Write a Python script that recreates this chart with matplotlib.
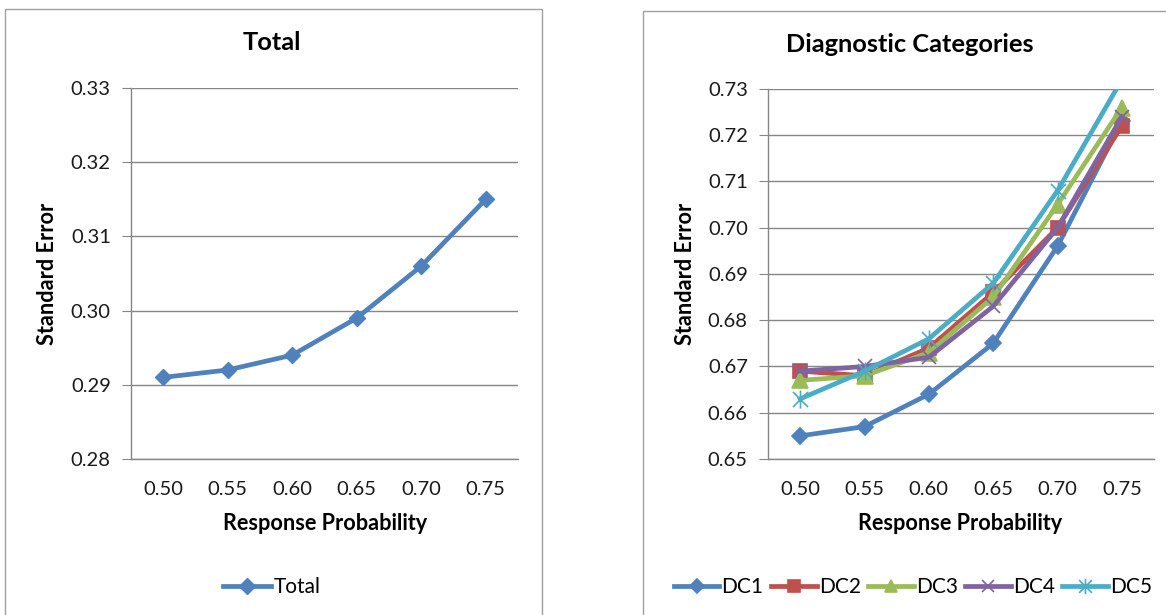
import numpy as np
import matplotlib
matplotlib.use("Agg")
import matplotlib.pyplot as plt
from matplotlib.path import Path
from matplotlib.patches import Rectangle

plt.rcParams['font.family'] = ['Lato', 'DejaVu Sans']

# Data
categories = ["0.50", "0.55", "0.60", "0.65", "0.70", "0.75"]
total = [0.291, 0.292, 0.294, 0.299, 0.306, 0.315]

dc1 = [0.655, 0.657, 0.664, 0.675, 0.696, 0.723]
dc2 = [0.669, 0.668, 0.674, 0.686, 0.700, 0.722]
dc3 = [0.667, 0.668, 0.673, 0.685, 0.705, 0.726]
dc4 = [0.669, 0.670, 0.672, 0.683, 0.700, 0.724]
dc5 = [0.663, 0.669, 0.676, 0.688, 0.708, 0.732]

dc_names = ["DC1", "DC2", "DC3", "DC4", "DC5"]
dc_values = [dc1, dc2, dc3, dc4, dc5]

blue = "#4F81BD"
cores = ["#4F81BD", "#C0504D", "#9BBB59", "#8064A2", "#4BACC6"]
grid_cor = "#868686"

# marcador asterisco do Excel (x + linha vertical)
star_path = Path([(-0.5, -0.5), (0.5, 0.5), (-0.5, 0.5), (0.5, -0.5), (0, -0.6), (0, 0.6)],
                 [Path.MOVETO, Path.LINETO, Path.MOVETO, Path.LINETO, Path.MOVETO, Path.LINETO])
marcadores = [("D", 8.5), ("s", 10.5), ("^", 11), ("x", 10), (star_path, 13)]

W, H = 1166, 615
fig = plt.figure(figsize=(W / 100, H / 100), dpi=100)

# bordas dos painéis
fig.patches.append(Rectangle((5 / W, -0.1), (542 - 5) / W, 1.1 - 9 / H,
                             transform=fig.transFigure, fill=False, edgecolor="#A0A0A0", lw=1))
fig.patches.append(Rectangle((643 / W, -0.1), 0.5, 1.1 - 11 / H,
                             transform=fig.transFigure, fill=False, edgecolor="#A0A0A0", lw=1))


def make_ax(x0, x1, y_top, y_bot):
    ax = fig.add_axes([x0 / W, 1 - y_bot / H, (x1 - x0) / W, (y_bot - y_top) / H])
    ax.set_xlim(-0.5, len(categories) - 0.5)
    ax.set_xticks(range(len(categories)))
    ax.set_xticklabels(categories)
    for s in ["top", "right"]:
        ax.spines[s].set_visible(False)
    for s in ["left", "bottom"]:
        ax.spines[s].set_color(grid_cor)
        ax.spines[s].set_linewidth(1)
    ax.yaxis.grid(True, color=grid_cor, lw=1)
    ax.set_axisbelow(True)
    ax.tick_params(axis="y", direction="out", length=6.5, color=grid_cor, pad=8,
                   labelsize=14.5, labelcolor="#1a1a1a")
    ax.tick_params(axis="x", length=0, pad=16, labelsize=14.5, labelcolor="#1a1a1a")
    return ax


# Painel esquerdo: Total
ax1 = make_ax(131, 518, 88, 459)
ax1.plot(range(len(categories)), total, color=blue, lw=3.4, marker="D", ms=8.5,
         label="Total", clip_on=False)
ax1.set_ylim(0.28, 0.33)
ax1.set_yticks(np.arange(0.28, 0.3301, 0.01))
ax1.set_yticklabels([f"{v:.2f}" for v in np.arange(0.28, 0.3301, 0.01)])
ax1.legend(loc="center", bbox_to_anchor=(272 / W, 1 - 587 / H), bbox_transform=fig.transFigure,
           frameon=False, fontsize=15, handlelength=2.3, handletextpad=0.15)

fig.text(272 / W, 1 - 43 / H, "Total", ha="center", va="center", fontsize=18.3, fontweight="bold")
fig.text(325 / W, 1 - 524 / H, "Response Probability", ha="center", va="center",
         fontsize=15.6, fontweight="bold")
fig.text(47 / W, 1 - 274 / H, "Standard Error", ha="center", va="center", rotation=90,
         fontsize=15.6, fontweight="bold")

# Painel direito: categorias diagnósticas
ax2 = make_ax(768, 1154, 89, 459)
for nome, vals, cor, (mk, ms) in zip(dc_names, dc_values, cores, marcadores):
    ax2.plot(range(len(categories)), vals, color=cor, lw=3.4, marker=mk, ms=ms,
             mec=cor, mew=1.2, label=nome)
ax2.set_ylim(0.65, 0.73)
ax2.set_yticks(np.arange(0.65, 0.7301, 0.01))
ax2.set_yticklabels([f"{v:.2f}" for v in np.arange(0.65, 0.7301, 0.01)])
ax2.legend(loc="center", bbox_to_anchor=(913 / W, 1 - 587 / H), bbox_transform=fig.transFigure,
           frameon=False, fontsize=15, ncol=5, handlelength=2.2, handletextpad=0.1,
           columnspacing=0.35, markerscale=0.85)

fig.text(910 / W, 1 - 45 / H, "Diagnostic Categories", ha="center", va="center",
         fontsize=18.3, fontweight="bold")
fig.text(960 / W, 1 - 524 / H, "Response Probability", ha="center", va="center",
         fontsize=15.6, fontweight="bold")
fig.text(686 / W, 1 - 274 / H, "Standard Error", ha="center", va="center", rotation=90,
         fontsize=15.6, fontweight="bold")

fig.savefig("out.png", dpi=100)
